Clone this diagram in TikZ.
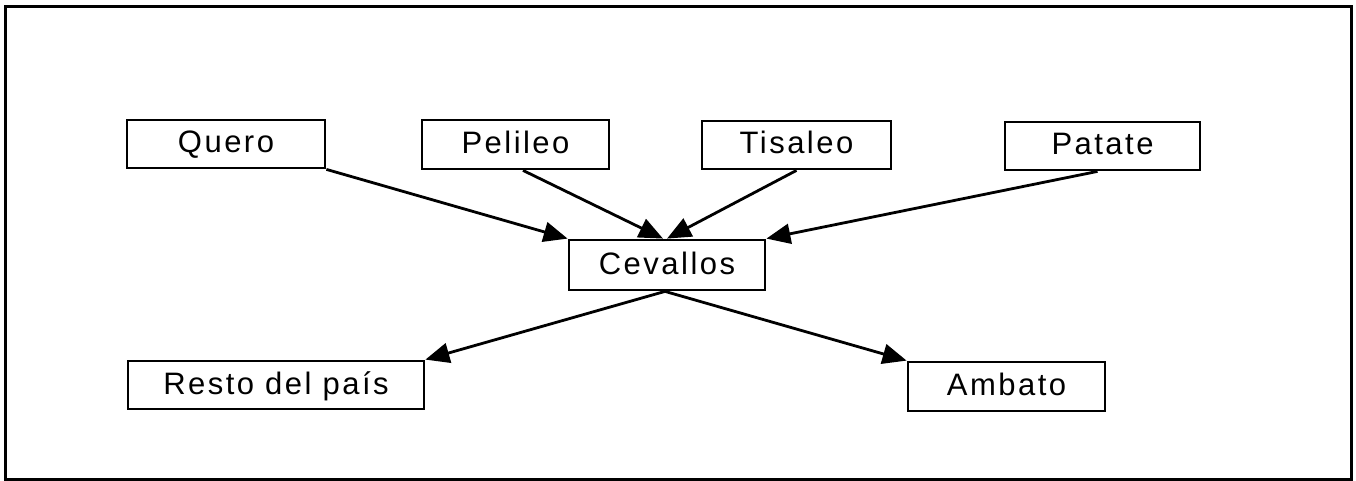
\documentclass[tikz,border=0pt]{standalone}
\usepackage{fontspec}
\setmainfont[LetterSpace=8]{Liberation Sans}
\usetikzlibrary{arrows.meta,calc}
\tikzset{
  town/.style={draw, line width=2.8pt, rectangle, inner sep=0pt,
    text height=18pt, text depth=0pt,
    font=\fontsize{31}{36}\selectfont, text=black},
  flow/.style={line width=2.8pt, -{Triangle[length=24pt,width=20pt]}}
}
\begin{document}
\begin{tikzpicture}[x=1pt,y=-1pt]
\useasboundingbox (0,0) rectangle (1356,481);
% outer frame
\draw[line width=3pt] (5,7) rectangle (1351,479);
% origin towns
\node[town, minimum width=198pt, minimum height=48pt] (q)   at (226,144)    {Quero};
\node[town, minimum width=187pt, minimum height=49pt] (pel) at (515.5,144.5) {Pelileo};
\node[town, minimum width=189pt, minimum height=48pt] (tis) at (796.5,145)  {Tisaleo};
\node[town, minimum width=195pt, minimum height=48pt] (pat) at (1102.5,146) {Patate};
% hub
\node[town, minimum width=196pt, minimum height=50pt] (ce)  at (667,265)    {Cevallos};
% destinations
\node[town, minimum width=296pt, minimum height=48pt] (res) at (276,385)    {Resto del país};
\node[town, minimum width=197pt, minimum height=49pt] (amb) at (1006.5,386.5) {Ambato};
% flows into the hub
\draw[flow] (q.south east) -- (ce.north west);
\draw[flow] ($(pel.south)+(7.5,0)$) -- ($(ce.north)+(-4,0)$);
\draw[flow] (tis.south) -- (ce.north);
\draw[flow] ($(pat.south)+(-5,0)$) -- (ce.north east);
% flows out of the hub
\draw[flow] ($(ce.south)+(-2,0)$) -- (res.north east);
\draw[flow] ($(ce.south)+(-2,0)$) -- (amb.north west);
\end{tikzpicture}
\end{document}
